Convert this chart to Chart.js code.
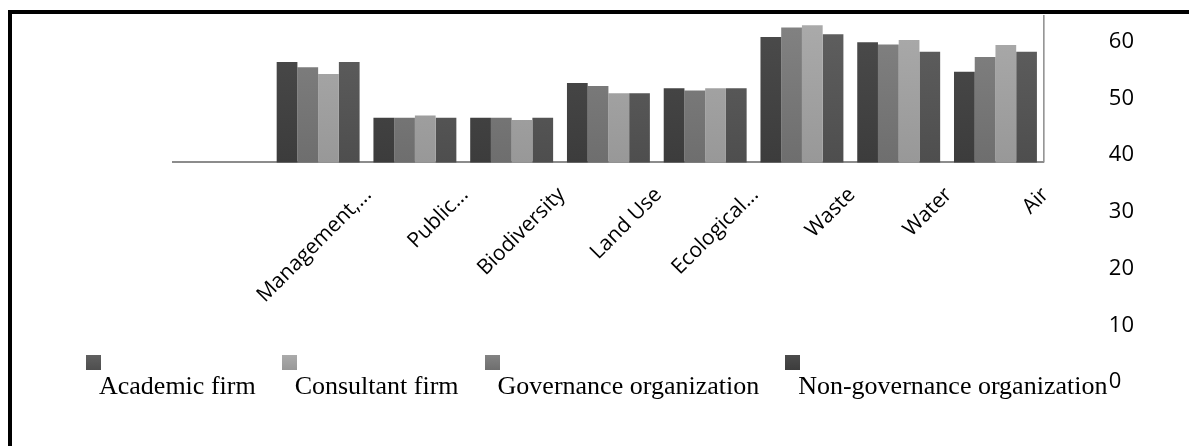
<!DOCTYPE html>
<html>
<head>
<meta charset="utf-8">
<script src="https://cdn.jsdelivr.net/npm/chart.js@4/dist/chart.umd.min.js"></script>
<style>
  html, body { margin: 0; padding: 0; background: #fff; }
  #wrap { position: relative; width: 1189px; height: 446px; overflow: hidden; }
  #frame { position: absolute; left: 8px; top: 10px; right: 0; bottom: 0;
           border-top: 4px solid #000; border-left: 4px solid #000; }
  #chart { position: absolute; left: 0; top: 0; }
  #legend { position: absolute; left: 86px; top: 355px; display: flex; gap: 26px; }
  .item { position: relative; }
  .box { width: 15px; height: 15px; }
  .lbl { padding-left: 13px; margin-top: 3px; font-family: "Liberation Serif", "Times New Roman", serif;
         font-size: 26px; line-height: 26px; color: #000; white-space: nowrap; }
</style>
</head>
<body>
<div id="wrap">
  <div id="frame"></div>
  <canvas id="chart" width="1189" height="446"></canvas>
  <div id="legend"></div>
</div>
<script>
// categories (first one is blank in the original)
const categories = ["", "Management,...", "Public...", "Biodiversity", "Land Use", "Ecological...", "Waste", "Water", "Air"];

// series, in the order the bars stand inside each group
const nonGovernance = [null, 56.4, 46.6, 46.6, 52.7, 51.8, 60.8, 59.9, 54.7];
const governance    = [null, 55.5, 46.6, 46.6, 52.2, 51.4, 62.5, 59.5, 57.3];
const consultant    = [null, 54.3, 47.0, 46.2, 50.9, 51.8, 62.9, 60.3, 59.4];
const academic      = [null, 56.4, 46.6, 46.6, 50.9, 51.8, 61.3, 58.2, 58.2];

const yTicks = [0, 10, 20, 30, 40, 50, 60];
const barBase = 38.7;   // bars start here, the x axis sits on it
const yMax = 64.7;

const datasets = [
  { label: "Non-governance organization", data: nonGovernance, colors: ["#4c4c4c", "#3c3c3c"] },
  { label: "Governance organization", data: governance, colors: ["#838383", "#6e6e6e"] },
  { label: "Consultant firm", data: consultant, colors: ["#ababab", "#989898"] },
  { label: "Academic firm", data: academic, colors: ["#606060", "#4e4e4e"] }
];
const legendOrder = ["Academic firm", "Consultant firm", "Governance organization", "Non-governance organization"];

// slight top-to-bottom shading, like the original bars
function shade(colors) {
  return ctx => {
    const area = ctx.chart.chartArea;
    if (!area) return colors[0];
    const yb = ctx.chart.scales.y.getPixelForValue(barBase);
    const g = ctx.chart.ctx.createLinearGradient(0, area.top, 0, yb);
    g.addColorStop(0, colors[0]);
    g.addColorStop(1, colors[1]);
    return g;
  };
}

// short right-hand frame line, only as tall as the bars' area
const plotEdge = {
  id: "plotEdge",
  afterDraw(chart) {
    const { ctx, chartArea, scales } = chart;
    const yb = scales.y.getPixelForValue(barBase);
    ctx.save();
    ctx.strokeStyle = "#8c8c8c";
    ctx.lineWidth = 1.5;
    ctx.beginPath();
    ctx.moveTo(chartArea.right, chartArea.top);
    ctx.lineTo(chartArea.right, yb);
    ctx.stroke();
    ctx.restore();
  }
};

const chart = new Chart(document.getElementById("chart").getContext("2d"), {
  type: "bar",
  data: {
    labels: categories,
    datasets: datasets.map(d => ({
      label: d.label, data: d.data, backgroundColor: shade(d.colors),
      base: barBase, borderWidth: 0, barPercentage: 1.0, categoryPercentage: 0.857
    }))
  },
  options: {
    responsive: false,
    animation: false,
    layout: { padding: { left: 173, top: 15, right: 55, bottom: 64 } },
    plugins: { legend: { display: false }, tooltip: { enabled: false } },
    scales: {
      x: {
        position: { y: barBase },
        grid: { display: false },
        border: { display: true, color: "#8c8c8c", width: 2 },
        ticks: {
          autoSkip: false, minRotation: 45, maxRotation: 45,
          labelOffset: 50, padding: 12,
          color: "#000", font: { family: "Open Sans", size: 21 }
        }
      },
      y: {
        position: "right",
        min: 0, max: yMax,
        afterBuildTicks: s => { s.ticks = yTicks.map(v => ({ value: v })); },
        grid: { display: false, drawTicks: true, tickLength: 65 },
        border: { display: false },
        ticks: { padding: 0, color: "#000", font: { family: "Open Sans", size: 22 } }
      }
    }
  },
  plugins: [plotEdge]
});

// legend: little square above each name
const legend = document.getElementById("legend");
legendOrder.forEach(name => {
  const d = datasets.find(s => s.label === name);
  const item = document.createElement("div");
  item.className = "item";
  item.innerHTML = '<div class="box" style="background:linear-gradient(' + d.colors[0] + ',' + d.colors[1] + ')"></div><div class="lbl"></div>';
  item.querySelector(".lbl").textContent = name;
  legend.appendChild(item);
});
</script>
</body>
</html>
